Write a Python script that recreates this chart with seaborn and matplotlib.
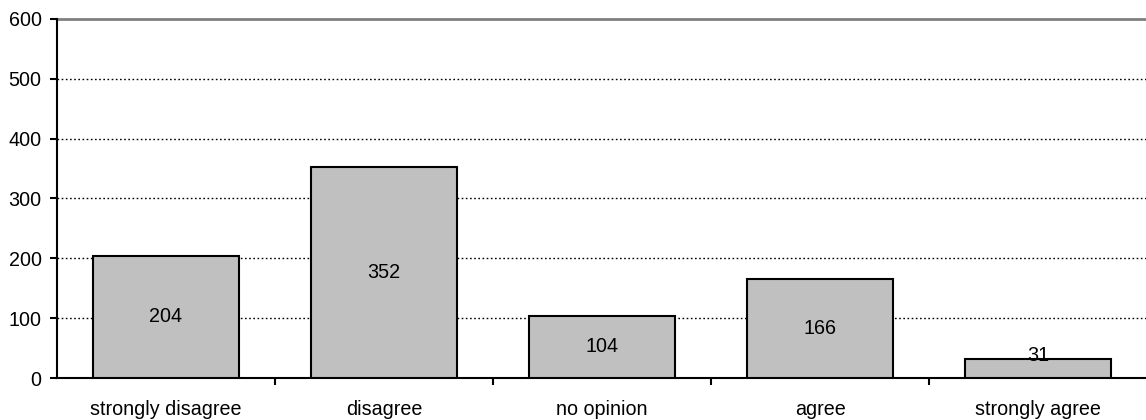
import matplotlib
matplotlib.use("Agg")
import matplotlib.pyplot as plt
import seaborn as sns
import pandas as pd
from matplotlib.ticker import FixedLocator

categories = ["strongly disagree", "disagree", "no opinion", "agree", "strongly agree"]
counts = [204, 352, 104, 166, 31]
y_ticks = [0, 100, 200, 300, 400, 500, 600]

sns.set_style("white")
plt.rcParams["font.family"] = ["Liberation Sans", "DejaVu Sans"]
plt.rcParams["text.color"] = "black"
plt.rcParams["xtick.color"] = "black"
plt.rcParams["ytick.color"] = "black"

FS = 14.2

df = pd.DataFrame({"response": categories, "count": counts})

fig = plt.figure(figsize=(11.46, 4.2), dpi=100)
ax = fig.add_axes([57 / 1146, 42 / 420, 1090 / 1146, 359 / 420])

sns.barplot(data=df, x="response", y="count", order=categories, color="#c0c0c0",
            edgecolor="black", linewidth=1.5, width=0.67, saturation=1, ax=ax, zorder=3)

ax.set_xlim(-0.5, len(categories) - 0.5)
ax.set_ylim(0, 600)
ax.set_yticks(y_ticks)
ax.set_yticklabels([str(t) for t in y_ticks], fontsize=FS)
ax.tick_params(axis="y", length=5, width=1.5, direction="out", pad=6, left=True)

# category labels centred, ticks at category boundaries
ax.set_xticks(range(len(categories)))
ax.set_xticklabels(categories, fontsize=FS)
ax.tick_params(axis="x", which="major", length=0, pad=16)
ax.xaxis.set_minor_locator(FixedLocator([i + 0.5 for i in range(len(categories) - 1)]))
ax.tick_params(axis="x", which="minor", length=5, width=1.5, direction="out", bottom=True)

for y in y_ticks[1:-1]:
    ax.axhline(y, color="black", linestyle=(0, (1.2, 1.8)), linewidth=1.0, zorder=1)
ax.axhline(600, color="#808080", linewidth=2, zorder=1, clip_on=False)

for s in ["top", "right"]:
    ax.spines[s].set_visible(False)
for s in ["left", "bottom"]:
    ax.spines[s].set_color("black")
    ax.spines[s].set_linewidth(1.5)

ax.set_xlabel("")
ax.set_ylabel("")

for i, v in enumerate(counts):
    ax.text(i, max(v / 2, 37), str(v), ha="center", va="center", fontsize=FS,
            color="black", zorder=4)

fig.savefig("out.png", dpi=100)
